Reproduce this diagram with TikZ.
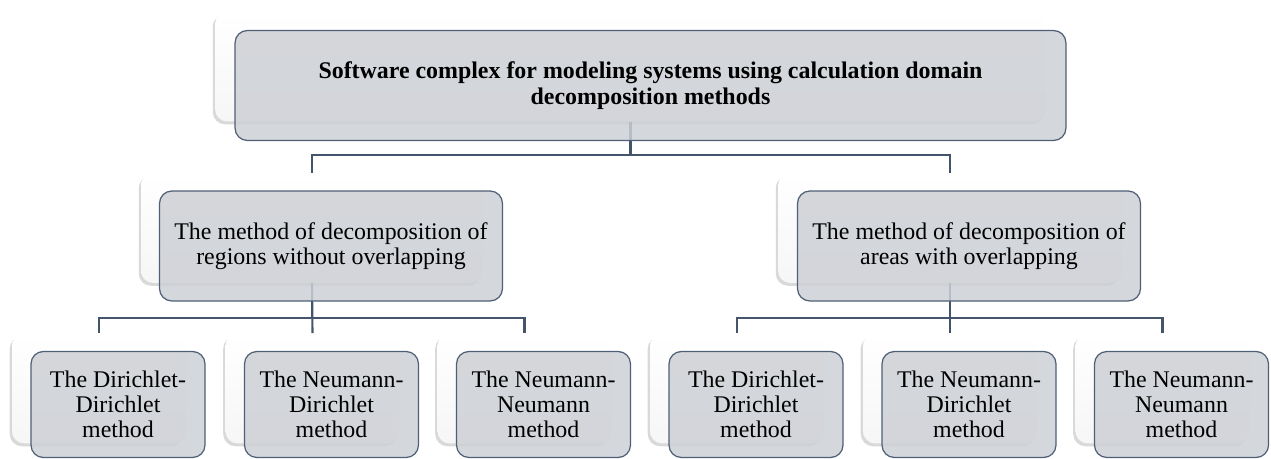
\documentclass[tikz,border=0pt]{standalone}
\usepackage{fontspec}
\setmainfont{Liberation Serif}
\usetikzlibrary{shadows}

\definecolor{linkcol}{HTML}{44546A}
\definecolor{boxline}{HTML}{4F5F77}
\definecolor{boxfill}{HTML}{CDD0D5}

\tikzset{
  backbox/.style={rounded corners=7pt, inner sep=0pt, minimum height=2.2cm,
    top color=white, bottom color=gray!7,
    drop shadow={shadow xshift=-1.3pt, shadow yshift=-1.6pt, opacity=0.3}},
  frontbox/.style={rounded corners=7pt, draw=boxline, line width=0.7pt,
    fill=boxfill, fill opacity=0.85, text opacity=1, inner sep=0pt,
    minimum height=2.2cm, align=center,
    font=\fontsize{13.6}{14.4}\selectfont},
  link/.style={draw=linkcol, line width=1.2pt},
}

\begin{document}
\begin{tikzpicture}[x=0.02cm, y=-0.02cm]
\useasboundingbox (0,0) rectangle (1271,459);

%задние белые блоки
\node[backbox, minimum width=16.62cm] (sysback) at (630.5,66.5) {};
\node[backbox, minimum width=6.84cm] (nolapback) at (312,228) {};
\node[backbox, minimum width=6.88cm] (lapback) at (950,228) {};

\node[backbox, minimum width=3.48cm] (dd1back) at (99,388.5) {};
\node[backbox, minimum width=3.48cm] (nd1back) at (312.5,388.5) {};
\node[backbox, minimum width=3.48cm] (nn1back) at (524.5,388.5) {};
\node[backbox, minimum width=3.48cm] (dd2back) at (737,388.5) {};
\node[backbox, minimum width=3.48cm] (nd2back) at (950,388.5) {};
\node[backbox, minimum width=3.48cm] (nn2back) at (1162.5,388.5) {};

%связи
\draw[link] (sysback.south) -- ++(0,33) -| (nolapback.north);
\draw[link] (sysback.south) -- ++(0,33) -| (lapback.north);

\draw[link] (nolapback.south) -- ++(0,35) -| (dd1back.north);
\draw[link] (nolapback.south) -- (nd1back.north);
\draw[link] (nolapback.south) -- ++(0,35) -| (nn1back.north);

\draw[link] (lapback.south) -- ++(0,35) -| (dd2back.north);
\draw[link] (lapback.south) -- (nd2back.north);
\draw[link] (lapback.south) -- ++(0,35) -| (nn2back.north);

%передние серые блоки
\node[frontbox, minimum width=16.62cm, xshift=0.4cm, yshift=-0.38cm,
  font=\fontsize{13.6}{14.4}\selectfont\bfseries] (sysbox) at (sysback)
  {Software complex for modeling systems using calculation domain\\decomposition methods};

\node[frontbox, minimum width=6.86cm, xshift=0.38cm, yshift=-0.36cm] (nolapbox) at (nolapback)
  {The method of decomposition of\\regions without overlapping};
\node[frontbox, minimum width=6.86cm, xshift=0.38cm, yshift=-0.36cm] (lapbox) at (lapback)
  {The method of decomposition of\\areas with overlapping};

\node[frontbox, minimum width=3.48cm, minimum height=2.12cm, xshift=0.38cm, yshift=-0.32cm] (dd1box) at (dd1back)
  {The Dirichlet-\\Dirichlet\\method};
\node[frontbox, minimum width=3.48cm, minimum height=2.12cm, xshift=0.38cm, yshift=-0.32cm] (nd1box) at (nd1back)
  {The Neumann-\\Dirichlet\\method};
\node[frontbox, minimum width=3.48cm, minimum height=2.12cm, xshift=0.38cm, yshift=-0.32cm] (nn1box) at (nn1back)
  {The Neumann-\\Neumann\\method};
\node[frontbox, minimum width=3.48cm, minimum height=2.12cm, xshift=0.38cm, yshift=-0.32cm] (dd2box) at (dd2back)
  {The Dirichlet-\\Dirichlet\\method};
\node[frontbox, minimum width=3.48cm, minimum height=2.12cm, xshift=0.38cm, yshift=-0.32cm] (nd2box) at (nd2back)
  {The Neumann-\\Dirichlet\\method};
\node[frontbox, minimum width=3.48cm, minimum height=2.12cm, xshift=0.38cm, yshift=-0.32cm] (nn2box) at (nn2back)
  {The Neumann-\\Neumann\\method};

\end{tikzpicture}
\end{document}
